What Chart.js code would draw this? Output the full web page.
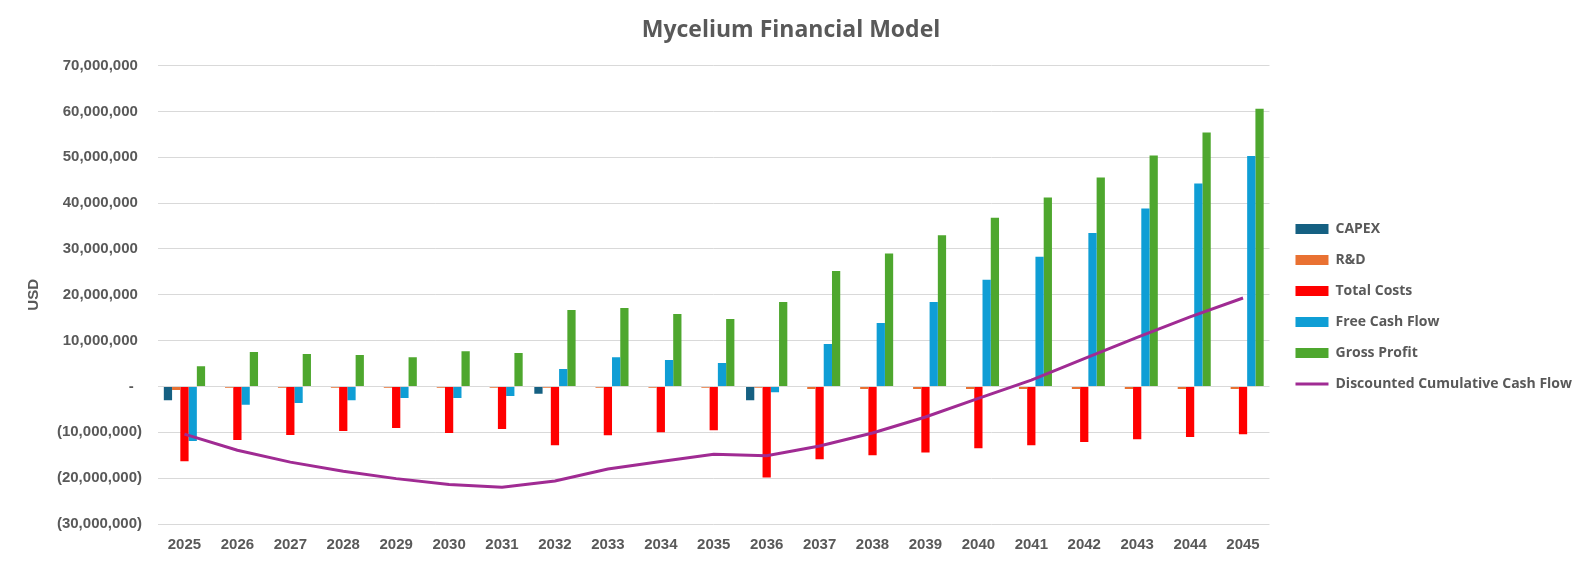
<!DOCTYPE html>
<html>
<head>
<meta charset="utf-8">
<script src="https://cdn.jsdelivr.net/npm/chart.js@4/dist/chart.umd.min.js"></script>
<style>
  html, body { margin: 0; padding: 0; background: #ffffff; }
  #wrap { position: relative; width: 1582px; height: 565px; }
</style>
</head>
<body>
<div id="wrap"><canvas id="c"></canvas></div>
<script>
const years = ['2025','2026','2027','2028','2029','2030','2031','2032','2033','2034','2035','2036','2037','2038','2039','2040','2041','2042','2043','2044','2045'];

const capex = [-3000000, 0, 0, 0, 0, 0, 0, -1600000, 0, 0, 0, -3000000, 0, 0, 0, 0, 0, 0, 0, 0, 0];
const rnd = [-750000, -300000, -300000, -300000, -300000, -300000, -300000, -300000, -300000, -300000, -300000, -300000, -550000, -550000, -550000, -550000, -550000, -550000, -550000, -550000, -550000];
const totalCosts = [-16300000, -11700000, -10600000, -9700000, -9050000, -10150000, -9300000, -12800000, -10650000, -10000000, -9550000, -19850000, -15900000, -15000000, -14400000, -13450000, -12800000, -12100000, -11500000, -11000000, -10400000];
const freeCashFlow = [-11900000, -4000000, -3600000, -3000000, -2500000, -2500000, -2050000, 3800000, 6400000, 5800000, 5100000, -1250000, 9250000, 13850000, 18450000, 23300000, 28300000, 33500000, 38800000, 44300000, 50300000];
const grossProfit = [4400000, 7500000, 7100000, 6850000, 6400000, 7700000, 7300000, 16700000, 17100000, 15800000, 14700000, 18450000, 25200000, 29000000, 33000000, 36800000, 41200000, 45600000, 50400000, 55400000, 60600000];
const discountedCumCF = [-10400000, -13900000, -16500000, -18500000, -20100000, -21400000, -22000000, -20600000, -18000000, -16350000, -14800000, -15100000, -13000000, -10150000, -6650000, -2600000, 1400000, 6100000, 10700000, 15200000, 19300000];

const yTickMin = -30000000;
const yTickMax = 70000000;
const yTickStep = 10000000;

const TXT = '#595959';
const tickFont = { family: '"Liberation Sans", Arial, sans-serif', size: 15, weight: 'bold' };
const headFont = '"Open Sans", Roboto, sans-serif';

function fmtAcct(v) {
  if (v === 0) return '-  ';
  const s = Math.abs(v).toLocaleString('en-US');
  return v < 0 ? '(' + s + ')' : s + ' ';
}

const ctx = document.getElementById('c').getContext('2d');
new Chart(ctx, {
  type: 'bar',
  data: {
    labels: years,
    datasets: [
      { label: 'CAPEX', data: capex, backgroundColor: '#156082', pointStyle: 'rect', order: 1 },
      { label: 'R&D', data: rnd, backgroundColor: '#E97132', pointStyle: 'rect', order: 1 },
      { label: 'Total Costs', data: totalCosts, backgroundColor: '#FF0000', pointStyle: 'rect', order: 1 },
      { label: 'Free Cash Flow', data: freeCashFlow, backgroundColor: '#0F9ED5', pointStyle: 'rect', order: 1 },
      { label: 'Gross Profit', data: grossProfit, backgroundColor: '#4EA72E', pointStyle: 'rect', order: 1 },
      { type: 'line', label: 'Discounted Cumulative Cash Flow', data: discountedCumCF,
        borderColor: '#A02B93', backgroundColor: '#A02B93', borderWidth: 3,
        pointRadius: 0, pointHoverRadius: 0, pointStyle: 'line', tension: 0, fill: false, order: 0 }
    ]
  },
  options: {
    responsive: true,
    maintainAspectRatio: false,
    animation: false,
    datasets: { bar: { categoryPercentage: 0.78, barPercentage: 1.0, borderWidth: 0 } },
    layout: { padding: { left: 0, right: 0, top: 0, bottom: 0 } },
    plugins: {
      title: {
        display: true,
        text: 'Mycelium Financial Model',
        color: TXT,
        font: { family: headFont, size: 23, weight: 'bold' },
        padding: { top: 17, bottom: 21 }
      },
      legend: {
        position: 'right',
        align: 'center',
        maxWidth: 420,
        title: { display: true, text: ' ', font: { size: 10 }, padding: 18 },
        labels: {
          usePointStyle: true,
          pointStyleWidth: 33,
          boxHeight: 10,
          padding: 17,
          color: TXT,
          font: { family: headFont, size: 14, weight: 'bold' },
          sort: (a, b) => a.datasetIndex - b.datasetIndex
        }
      },
      tooltip: { enabled: false }
    },
    scales: {
      x: {
        grid: { display: false },
        border: { display: false },
        ticks: { color: TXT, font: tickFont, padding: 4, maxRotation: 0 },
        afterFit: s => { s.height = 41; }
      },
      y: {
        min: yTickMin,
        max: yTickMax,
        grid: { color: '#D9D9D9', lineWidth: 1, drawTicks: false },
        border: { display: false },
        ticks: { stepSize: yTickStep, color: TXT, font: tickFont, padding: 16, callback: v => fmtAcct(v) },
        title: { display: true, text: 'USD', color: TXT, font: tickFont, padding: { top: 25, bottom: 0 } },
        afterFit: s => { s.width = 158; }
      },
      spacer: {
        position: 'right',
        display: true,
        grid: { display: false },
        border: { display: false },
        ticks: { display: false },
        afterFit: s => { s.width = 9; }
      }
    }
  }
});
</script>
</body>
</html>
